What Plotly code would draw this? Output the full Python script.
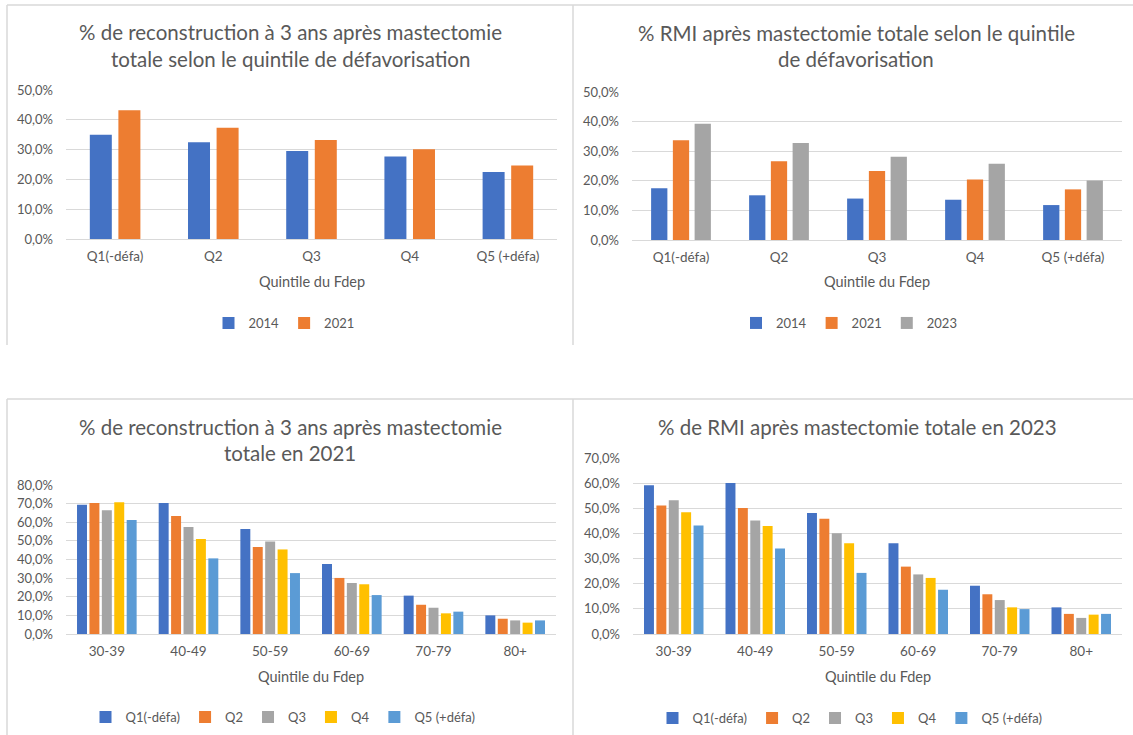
import plotly.graph_objects as go

# ---------------- data ----------------
quintiles = ["Q1(-défa)", "Q2", "Q3", "Q4", "Q5 (+défa)"]
recon_2014 = [35.0, 32.5, 29.5, 27.7, 22.5]
recon_2021 = [43.2, 37.3, 33.2, 30.1, 24.7]

rmi_2014 = [17.5, 15.1, 14.0, 13.6, 11.8]
rmi_2021 = [33.7, 26.6, 23.3, 20.4, 17.1]
rmi_2023 = [39.3, 32.8, 28.1, 25.8, 20.1]

ages = ["30-39", "40-49", "50-59", "60-69", "70-79", "80+"]
q_names = ["Q1(-défa)", "Q2", "Q3", "Q4", "Q5 (+défa)"]
recon21_q1 = [69.4, 70.3, 56.4, 37.6, 20.6, 10.0]
recon21_q2 = [70.3, 63.3, 46.7, 30.1, 15.7, 8.2]
recon21_q3 = [66.4, 57.4, 49.6, 27.4, 14.1, 7.3]
recon21_q4 = [70.8, 51.0, 45.4, 26.7, 11.1, 6.1]
recon21_q5 = [61.2, 40.6, 32.7, 20.9, 12.0, 7.3]

rmi23_q1 = [59.2, 60.1, 48.1, 36.1, 19.2, 10.6]
rmi23_q2 = [51.1, 50.1, 45.8, 26.8, 15.8, 8.0]
rmi23_q3 = [53.2, 45.1, 40.1, 23.7, 13.5, 6.4]
rmi23_q4 = [48.4, 43.0, 36.1, 22.3, 10.6, 7.7]
rmi23_q5 = [43.2, 34.0, 24.3, 17.6, 9.9, 8.0]

titles = [
    ["% de reconstruction à 3 ans après mastectomie", "totale selon le quintile de défavorisation"],
    ["% RMI après mastectomie totale selon le quintile", "de défavorisation"],
    ["% de reconstruction à 3 ans après mastectomie", "totale en 2021"],
    ["% de RMI après mastectomie totale en 2023"],
]
x_title = "Quintile du Fdep"

# ---------------- style ----------------
W, H = 1133, 735
FONT = "Lato"
TXT = "#595959"
GRID = "#d9d9d9"
C_BLUE, C_ORANGE, C_GRAY, C_YELLOW, C_LBLUE = "#4472C4", "#ED7D31", "#A5A5A5", "#FFC000", "#5B9BD5"


def px(x):
    return x / W


def py(y):
    return 1 - y / H


fig = go.Figure()

panels = [
    dict(cats=quintiles, series=[("2014", recon_2014, C_BLUE), ("2021", recon_2021, C_ORANGE)],
         slot=0.291, bar=0.224, ymax=50, x0=66, x1=557, y0=239, ytop=90,
         title_y=[32, 59], title_x=290, xt_y=281, leg=(284, 323)),
    dict(cats=quintiles, series=[("2014", rmi_2014, C_BLUE), ("2021", rmi_2021, C_ORANGE),
                                 ("2023", rmi_2023, C_GRAY)],
         slot=0.222, bar=0.166, ymax=50, x0=632, x1=1122, y0=240, ytop=92,
         title_y=[33, 59], title_x=856, xt_y=281, leg=(849, 323)),
    dict(cats=ages, series=list(zip(q_names, [recon21_q1, recon21_q2, recon21_q3, recon21_q4, recon21_q5],
                                    [C_BLUE, C_ORANGE, C_GRAY, C_YELLOW, C_LBLUE])),
         slot=0.152, bar=0.122, ymax=80, x0=66, x1=556, y0=634, ytop=485,
         title_y=[427, 453], title_x=290, xt_y=676, leg=(283, 717)),
    dict(cats=ages, series=list(zip(q_names, [rmi23_q1, rmi23_q2, rmi23_q3, rmi23_q4, rmi23_q5],
                                    [C_BLUE, C_ORANGE, C_GRAY, C_YELLOW, C_LBLUE])),
         slot=0.152, bar=0.122, ymax=70, x0=633, x1=1122, y0=634, ytop=458,
         title_y=[427], title_x=857, xt_y=676, leg=(850, 718)),
]

annotations = []
layout = {}
for i, p in enumerate(panels):
    k = "" if i == 0 else str(i + 1)
    lg = "legend" + k
    n = len(p["series"])
    for j, (name, vals, col) in enumerate(p["series"]):
        center = (j - (n - 1) / 2) * p["slot"]
        fig.add_trace(go.Bar(
            x=p["cats"], y=vals, name=name, marker=dict(color=col, line=dict(width=0)),
            width=p["bar"], offset=center - p["bar"] / 2,
            xaxis="x" + k, yaxis="y" + k, legend=lg,
        ))
    layout["xaxis" + k] = dict(
        domain=[px(p["x0"]), px(p["x1"])], anchor="y" + k, type="category",
        range=[-0.5, len(p["cats"]) - 0.5], showgrid=False, showline=False, ticks="",
        tickfont=dict(family=FONT, size=13.5, color=TXT), ticklabelstandoff=7, fixedrange=True,
        automargin=False,
    )
    layout["yaxis" + k] = dict(
        domain=[py(p["y0"]), py(p["ytop"])], anchor="x" + k, range=[0, p["ymax"]], dtick=10,
        tickformat=".1f", ticksuffix="%", showgrid=True, gridcolor=GRID, gridwidth=1,
        zeroline=True, zerolinecolor=GRID, zerolinewidth=1, showline=False, ticks="",
        tickfont=dict(family=FONT, size=13, color=TXT), ticklabelstandoff=12, fixedrange=True,
        automargin=False,
    )
    layout[lg] = dict(
        x=px(p["leg"][0]), y=py(p["leg"][1]), xanchor="center", yanchor="middle",
        orientation="h", font=dict(family=FONT, size=13, color=TXT),
        bgcolor="rgba(0,0,0,0)", itemwidth=30, tracegroupgap=0,
    )
    for line, ty in zip(titles[i], p["title_y"]):
        annotations.append(dict(
            text=line, x=px(p["title_x"]), y=py(ty), xref="paper", yref="paper",
            xanchor="center", yanchor="middle", showarrow=False,
            font=dict(family=FONT, size=20.5, color=TXT),
        ))
    annotations.append(dict(
        text=x_title, x=px((p["x0"] + p["x1"]) / 2), y=py(p["xt_y"]), xref="paper", yref="paper",
        xanchor="center", yanchor="middle", showarrow=False,
        font=dict(family=FONT, size=14.5, color=TXT),
    ))

# panel borders
border = dict(color="#d9d9d9", width=1.5)
shapes = []
for (xa, ya, xb, yb) in [(7, 5, 1133, 5), (7, 5, 7, 345), (573, 5, 573, 345),
                         (7, 399, 1133, 399), (7, 399, 7, 735), (573, 399, 573, 735)]:
    shapes.append(dict(type="line", xref="paper", yref="paper",
                       x0=px(xa), y0=py(ya), x1=px(xb), y1=py(yb), line=border))

fig.update_layout(
    width=W, height=H, margin=dict(l=0, r=0, t=0, b=0, pad=0, autoexpand=False), autosize=False,
    paper_bgcolor="white", plot_bgcolor="white", barmode="overlay",
    separators=", ", font=dict(family=FONT, color=TXT), showlegend=True,
    annotations=annotations, shapes=shapes, **layout,
)

fig.write_html("out.html", config={"displayModeBar": False},
               post_script="document.body.style.margin='0px';")
